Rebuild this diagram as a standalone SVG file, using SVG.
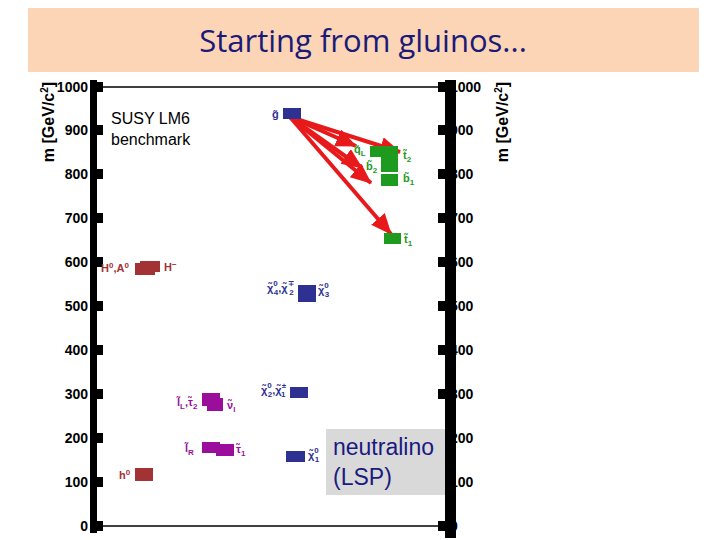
<svg xmlns="http://www.w3.org/2000/svg" width="720" height="540" viewBox="0 0 720 540">
<defs>
<style>
.ax{font-family:"Liberation Sans",Arial,sans-serif;font-size:14px;font-weight:bold;fill:#000}
.yl{font-family:"Liberation Sans",Arial,sans-serif;font-size:16px;font-weight:bold;fill:#000}
.lbl{font-family:"Liberation Sans","DejaVu Sans",sans-serif;font-size:11px;font-weight:bold}
.sub{font-size:8px}
.bl{fill:#2E3192}
.gr{fill:#1E9A1E}
.br{fill:#A33234}
.pu{fill:#9B0E9B}
.arr{stroke:#E8191B;stroke-width:4;fill:none;marker-end:url(#ah)}
</style>
<marker id="ah" markerUnits="userSpaceOnUse" markerWidth="22" markerHeight="20" refX="20" refY="9" orient="auto">
<path d="M0,0 L21,9 L0,18 Z" fill="#E8191B"/>
</marker>
</defs>
<rect width="720" height="540" fill="#fff"/>
<g id="header">
<rect x="28" y="8" width="671" height="64" fill="#FBD5B5"/>
<text x="363" y="52" text-anchor="middle" font-family="'Open Sans','Liberation Sans',sans-serif" font-size="31" fill="#1A1A78">Starting from gluinos...</text>
</g>
<g id="axes">
<line x1="97" y1="87" x2="445" y2="87" stroke="#000" stroke-width="1.5"/>
<line x1="97" y1="526" x2="445" y2="526" stroke="#000" stroke-width="1.5"/>
<g class="ax" text-anchor="end">
<text x="88" y="92">1000</text><text x="88" y="135">900</text><text x="88" y="179">800</text><text x="88" y="223">700</text><text x="88" y="267">600</text><text x="88" y="311">500</text><text x="88" y="355">400</text><text x="88" y="399">300</text><text x="88" y="443">200</text><text x="88" y="487">100</text><text x="88" y="531">0</text>
</g>
<g class="ax">
<text x="450" y="92">1000</text><text x="450" y="135">900</text><text x="450" y="179">800</text><text x="450" y="223">700</text><text x="450" y="267">600</text><text x="450" y="311">500</text><text x="450" y="355">400</text><text x="450" y="399">300</text><text x="450" y="443">200</text><text x="450" y="487">100</text><text x="450" y="531">0</text>
</g>
<rect x="90" y="80" width="7" height="453" fill="#000"/>
<rect x="445" y="80" width="11" height="458" fill="#000"/>
<g fill="#000">
<rect x="90" y="82" width="13" height="10"/><rect x="90" y="125" width="13" height="10"/><rect x="90" y="169" width="13" height="10"/><rect x="90" y="213" width="13" height="10"/><rect x="90" y="257" width="13" height="10"/><rect x="90" y="301" width="13" height="10"/><rect x="90" y="345" width="13" height="10"/><rect x="90" y="389" width="13" height="10"/><rect x="90" y="433" width="13" height="10"/><rect x="90" y="477" width="13" height="10"/><rect x="90" y="521" width="13" height="10"/>
<rect x="438" y="82" width="10" height="10"/><rect x="438" y="125" width="10" height="10"/><rect x="438" y="169" width="10" height="10"/><rect x="438" y="213" width="10" height="10"/><rect x="438" y="257" width="10" height="10"/><rect x="438" y="301" width="10" height="10"/><rect x="438" y="345" width="10" height="10"/><rect x="438" y="389" width="10" height="10"/><rect x="438" y="433" width="10" height="10"/><rect x="438" y="477" width="10" height="10"/><rect x="438" y="521" width="10" height="10"/>
</g>
<text class="yl" transform="translate(54,122) rotate(-90)" text-anchor="middle">m [GeV/c<tspan dy="-6" font-size="10">2</tspan><tspan dy="6">]</tspan></text>
<text class="yl" transform="translate(508,122) rotate(-90)" text-anchor="middle">m [GeV/c<tspan dy="-6" font-size="10">2</tspan><tspan dy="6">]</tspan></text>
</g>
<g id="benchmark" font-family="'Liberation Sans',Arial,sans-serif" font-size="16" fill="#000">
<text x="111" y="124">SUSY LM6</text>
<text x="111" y="145">benchmark</text>
</g>
<g id="connectors">
<line class="arr" x1="290" y1="117" x2="400" y2="152"/>
<line class="arr" x1="290" y1="117" x2="356" y2="146"/>
<line class="arr" x1="290" y1="117" x2="362" y2="168"/>
<line class="arr" x1="290" y1="117" x2="371" y2="183"/>
<line class="arr" x1="290" y1="117" x2="391" y2="234"/>
</g>
<g id="gluino">
<rect class="bl" x="283" y="108" width="18" height="11"/>
<text class="lbl bl" x="272" y="118">g̃</text>
</g>
<g id="squarks">
<rect class="gr" x="370" y="146" width="15" height="11"/>
<rect class="gr" x="383" y="146" width="15" height="12"/>
<rect class="gr" x="381" y="157" width="17" height="15"/>
<rect class="gr" x="381" y="174" width="17" height="12"/>
<text class="lbl gr" x="354" y="153">q̃<tspan class="sub" dy="3">L</tspan></text>
<text class="lbl gr" x="366" y="170">b̃<tspan class="sub" dy="3">2</tspan></text>
<text class="lbl gr" x="403" y="159">t̃<tspan class="sub" dy="3">2</tspan></text>
<text class="lbl gr" x="403" y="182">b̃<tspan class="sub" dy="3">1</tspan></text>
</g>
<g id="stop1">
<rect class="gr" x="384" y="233" width="17" height="11"/>
<text class="lbl gr" x="404" y="243">t̃<tspan class="sub" dy="3">1</tspan></text>
</g>
<g id="heavy-higgs">
<rect class="br" x="135" y="263" width="20" height="12"/>
<rect class="br" x="140" y="261" width="20" height="11"/>
<text class="lbl br" x="101" y="272">H<tspan class="sub" dy="-4">0</tspan><tspan dy="4">,A</tspan><tspan class="sub" dy="-4">0</tspan></text>
<text class="lbl br" x="164" y="271">H<tspan class="sub" dy="-4">−</tspan></text>
</g>
<g id="light-higgs">
<rect class="br" x="135" y="468" width="18" height="13"/>
<text class="lbl br" x="119" y="479">h<tspan class="sub" dy="-4">0</tspan></text>
</g>
<g id="heavy-gauginos">
<rect class="bl" x="298" y="285" width="18" height="17"/>
<text class="lbl bl" x="267" y="292">χ̃<tspan class="sub" dy="-6">0</tspan><tspan class="sub" dx="-4" dy="9">4</tspan><tspan dy="-3">,χ̃</tspan><tspan class="sub" dy="-6">∓</tspan><tspan class="sub" dx="-5" dy="9">2</tspan></text>
<text class="lbl bl" x="318" y="294">χ̃<tspan class="sub" dy="-6">0</tspan><tspan class="sub" dx="-4" dy="9">3</tspan></text>
</g>
<g id="left-sleptons">
<rect class="pu" x="202" y="393" width="18" height="13"/>
<rect class="pu" x="207" y="398" width="16" height="13"/>
<text class="lbl pu" x="177" y="406">l̃<tspan class="sub" dy="3">L</tspan><tspan dy="-3">,τ̃</tspan><tspan class="sub" dy="3">2</tspan></text>
<text class="lbl pu" x="227" y="409">ν̃<tspan class="sub" dy="3">l</tspan></text>
</g>
<g id="light-gauginos">
<rect class="bl" x="290" y="387" width="18" height="11"/>
<text class="lbl bl" x="261" y="394">χ̃<tspan class="sub" dy="-6">0</tspan><tspan class="sub" dx="-4" dy="9">2</tspan><tspan dy="-3">,χ̃</tspan><tspan class="sub" dy="-6">±</tspan><tspan class="sub" dx="-5" dy="9">1</tspan></text>
</g>
<g id="right-sleptons">
<rect class="pu" x="202" y="442" width="18" height="11"/>
<rect class="pu" x="216" y="444" width="18" height="12"/>
<text class="lbl pu" x="185" y="452">l̃<tspan class="sub" dy="3">R</tspan></text>
<text class="lbl pu" x="236" y="453">τ̃<tspan class="sub" dy="3">1</tspan></text>
</g>
<g id="lsp">
<rect class="bl" x="286" y="451" width="19" height="11"/>
<text class="lbl bl" x="308" y="459">χ̃<tspan class="sub" dy="-6">0</tspan><tspan class="sub" dx="-4" dy="9">1</tspan></text>
</g>
<g id="lsp-note">
<rect x="326" y="429" width="119" height="66" fill="#D9D9D9"/>
<text x="333" y="455" font-family="'Liberation Sans',Arial,sans-serif" font-size="23" fill="#1A1A80">neutralino</text>
<text x="333" y="485" font-family="'Liberation Sans',Arial,sans-serif" font-size="23" fill="#1A1A80">(LSP)</text>
</g>
</svg>
